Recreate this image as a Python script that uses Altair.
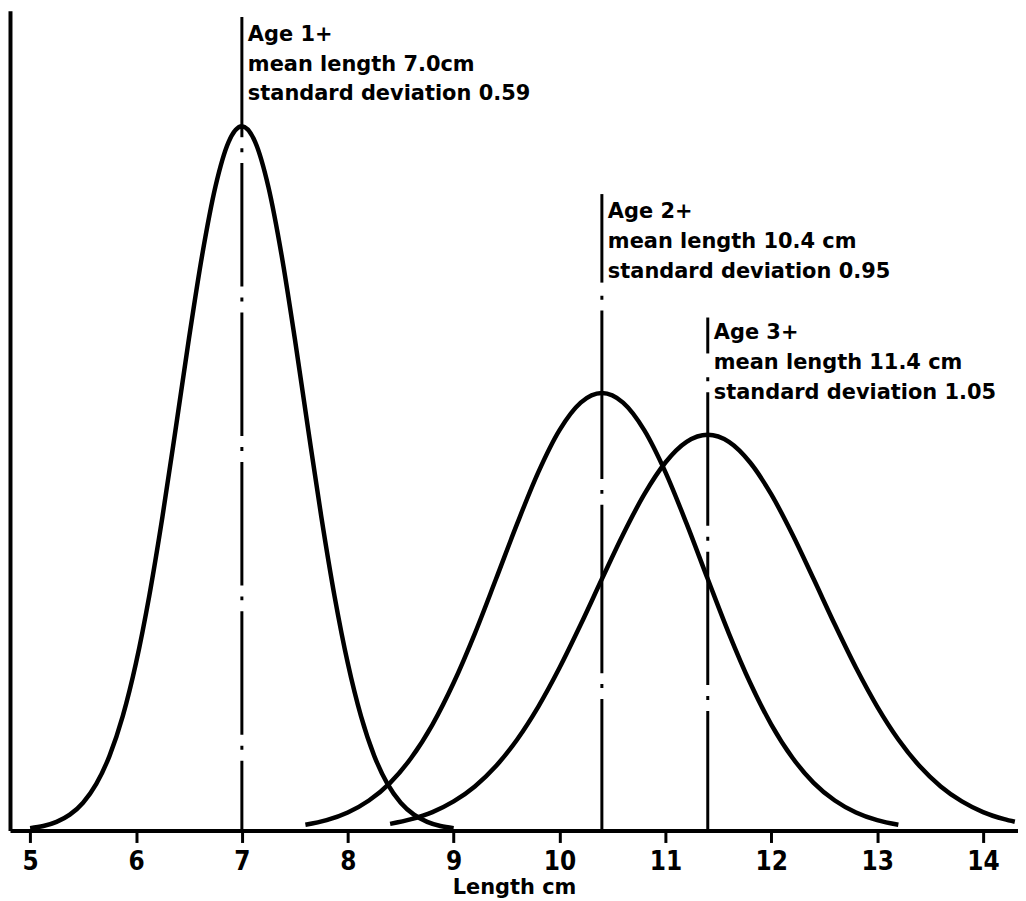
import altair as alt
import pandas as pd

# ---- data ----
ages = ["Age 1+", "Age 2+", "Age 3+"]
means = [7.0, 10.4, 11.4]
sds = [0.59, 0.95, 1.05]
mean_lines = ["mean length 7.0cm", "mean length 10.4 cm", "mean length 11.4 cm"]
sd_lines = ["standard deviation 0.59", "standard deviation 0.95", "standard deviation 1.05"]

len1 = [5.0, 5.125, 5.25, 5.375, 5.5, 5.625, 5.75, 5.875, 6.0, 6.125, 6.25, 6.375, 6.5,
        6.625, 6.75, 6.875, 7.0, 7.125, 7.25, 7.375, 7.5, 7.625, 7.75, 7.875, 8.0,
        8.125, 8.25, 8.375, 8.5, 8.625, 8.75, 8.875, 9.0]
freq1 = [0.0022, 0.0043, 0.0083, 0.0152, 0.0267, 0.0447, 0.0717, 0.1098, 0.1608,
         0.2251, 0.3014, 0.3858, 0.4722, 0.5525, 0.6181, 0.6612, 0.6762, 0.6612,
         0.6181, 0.5525, 0.4722, 0.3858, 0.3014, 0.2251, 0.1608, 0.1098, 0.0717,
         0.0447, 0.0267, 0.0152, 0.0083, 0.0043, 0.0022]

len2 = [7.6, 7.8, 8.0, 8.2, 8.4, 8.6, 8.8, 9.0, 9.2, 9.4, 9.6, 9.8, 10.0, 10.2, 10.4,
        10.6, 10.8, 11.0, 11.2, 11.4, 11.6, 11.8, 12.0, 12.2, 12.4, 12.6, 12.8, 13.0, 13.2]
freq2 = [0.0055, 0.0099, 0.0173, 0.0288, 0.0458, 0.0698, 0.1017, 0.1418, 0.1891,
         0.2414, 0.2946, 0.3441, 0.3844, 0.4108, 0.4200, 0.4108, 0.3844, 0.3441,
         0.2946, 0.2414, 0.1891, 0.1418, 0.1017, 0.0698, 0.0458, 0.0288, 0.0173,
         0.0099, 0.0055]

len3 = [8.4, 8.6, 8.8, 9.0, 9.2, 9.4, 9.6, 9.8, 10.0, 10.2, 10.4, 10.6, 10.8, 11.0,
        11.2, 11.4, 11.6, 11.8, 12.0, 12.2, 12.4, 12.6, 12.8, 13.0, 13.2, 13.4, 13.6,
        13.8, 14.0, 14.2, 14.3]
freq3 = [0.0064, 0.0109, 0.0177, 0.0279, 0.0423, 0.0619, 0.0874, 0.1190, 0.1562,
         0.1977, 0.2414, 0.2842, 0.3227, 0.3533, 0.3731, 0.3799, 0.3731, 0.3533,
         0.3227, 0.2842, 0.2414, 0.1977, 0.1562, 0.1190, 0.0874, 0.0619, 0.0423,
         0.0279, 0.0177, 0.0109, 0.0084]

tick_values = [5, 6, 7, 8, 9, 10, 11, 12, 13, 14]

# ---- annotation placement (in y-axis units) ----
bracket_top = [0.781, 0.611, 0.4925]
bracket_bottom = [0.6656, 0.526, 0.458]
dash_start = [0.6656, 0.524, 0.4456]
text_y = [0.7583, 0.5881, 0.4715]
dash_len = [124, 169, 134]

rows = []
for age, xs, ys in zip(ages, [len1, len2, len3], [freq1, freq2, freq3]):
    for x, y in zip(xs, ys):
        rows.append({"age": age, "length": x, "freq": y})
curves = pd.DataFrame(rows)

ann = pd.DataFrame({
    "age": ages, "mean": means, "top": bracket_top, "bottom": bracket_bottom,
    "dstart": dash_start, "ty": text_y,
    "label": [f"{a}\n{m}\n{s}" for a, m, s in zip(ages, mean_lines, sd_lines)],
})

xscale = alt.Scale(domain=[4.81, 14.33], nice=False, zero=False)
yscale = alt.Scale(domain=[0, 0.787], nice=False, zero=True)

xaxis = alt.Axis(values=tick_values, format="d", title="Length cm", grid=False,
                 domainColor="black", domainWidth=4, tickColor="black",
                 tickWidth=3, tickSize=12, labelColor="black",
                 labelFont="Liberation Sans Narrow, DejaVu Sans Condensed, Liberation Sans",
                 labelFontSize=26, labelFontWeight="bold", labelPadding=6,
                 titleFont="DejaVu Sans", titleFontSize=21, titleFontWeight="bold",
                 titleColor="black", titlePadding=2)
yaxis = alt.Axis(labels=False, ticks=False, title=None, grid=False,
                 domainColor="black", domainWidth=4)

curve_layer = alt.Chart(curves).mark_line(
    color="black", strokeWidth=4.5, interpolate="monotone"
).encode(
    x=alt.X("length:Q", scale=xscale, axis=xaxis),
    y=alt.Y("freq:Q", scale=yscale, axis=yaxis),
    detail="age:N",
)

layers = [curve_layer]

bracket = alt.Chart(ann).mark_rule(color="black", strokeWidth=3).encode(
    x=alt.X("mean:Q", scale=xscale),
    y=alt.Y("top:Q", scale=yscale),
    y2="bottom:Q",
)
layers.append(bracket)

for i, age in enumerate(ages):
    d = dash_len[i]
    layers.append(
        alt.Chart(ann).transform_filter(alt.datum.age == age).mark_rule(
            color="black", strokeWidth=3, strokeDash=[d, 11, 4, 11],
            strokeDashOffset=d,
        ).encode(
            x=alt.X("mean:Q", scale=xscale),
            y=alt.Y("dstart:Q", scale=yscale),
            y2=alt.Y2(datum=0),
        )
    )

text_layer = alt.Chart(ann).mark_text(
    align="left", baseline="alphabetic", dx=6, lineHeight=30, lineBreak="\n",
    font="DejaVu Sans", fontSize=21, fontWeight="bold", color="black",
).encode(
    x=alt.X("mean:Q", scale=xscale),
    y=alt.Y("ty:Q", scale=yscale),
    text="label:N",
)
layers.append(text_layer)

chart = alt.layer(*layers).properties(
    width=1012, height=823,
    padding={"left": 2, "top": 1, "right": 0, "bottom": 68},
    autosize="none",
    background="white",
).configure_view(stroke=None)

chart.save("out.html", embed_options={"renderer": "svg", "actions": False})
